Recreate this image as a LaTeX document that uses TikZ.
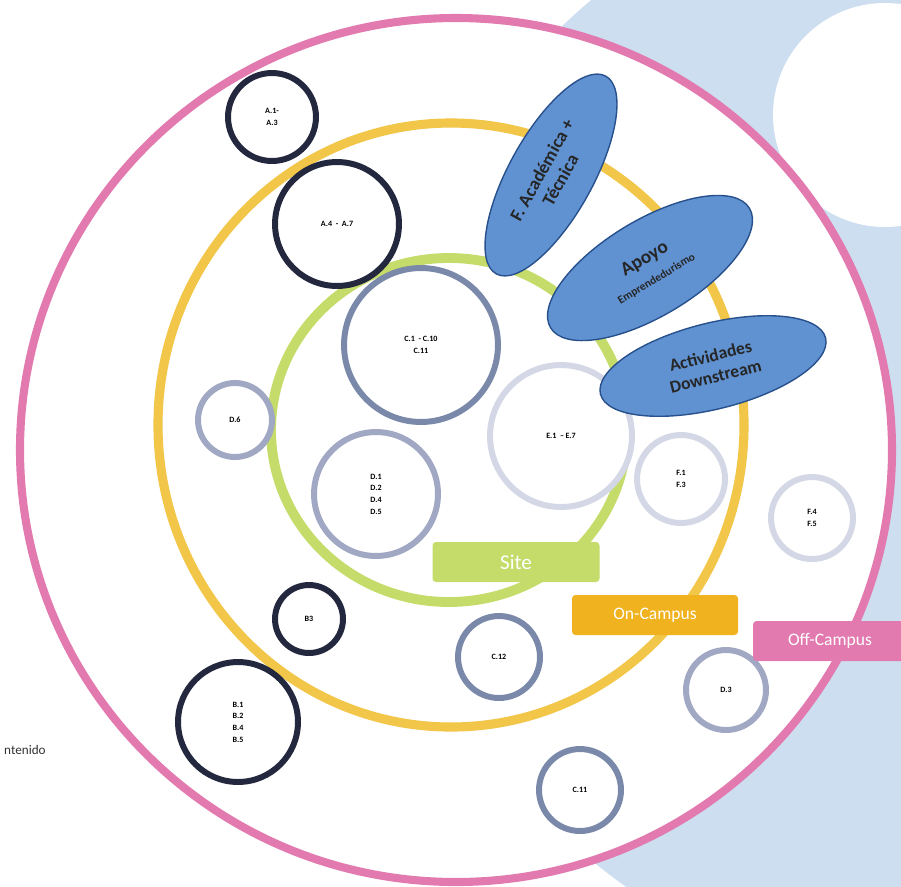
\documentclass[tikz,border=0pt]{standalone}
\usepackage{fontspec}
\setmainfont{Carlito}
\usetikzlibrary{shapes.geometric}
\definecolor{OffC}{RGB}{226,122,176}
\definecolor{OnC}{RGB}{242,198,72}
\definecolor{OnBox}{RGB}{240,178,30}
\definecolor{SiteC}{RGB}{197,220,106}
\definecolor{Navy}{RGB}{35,40,62}
\definecolor{Slate}{RGB}{122,136,170}
\definecolor{Mist}{RGB}{160,168,196}
\definecolor{Haze}{RGB}{212,216,230}
\definecolor{Act}{RGB}{96,146,210}
\definecolor{ActLine}{RGB}{40,80,140}
\definecolor{Back}{RGB}{205,222,240}
\newcommand{\Unit}[6]{% name x y radius colour label
\node[unit,draw=#5,minimum size={#4*0.04cm}] (#1) at (#2,#3) {#6};
}
\newcommand{\Tag}[6]{% name x y width colour text
\node[tag,fill=#5,minimum width={#4*0.02cm}] (#1) at (#2,#3) {#6};
}

\begin{document}
\begin{tikzpicture}[x=0.02cm,y=-0.02cm,
  unit/.style={circle,line width=3.4pt,fill=white,inner sep=0pt,align=center,
    font=\fontsize{4.6}{6.6}\selectfont\bfseries},
  blob/.style={ellipse,draw=ActLine,fill=Act,line width=0.8pt,inner sep=0pt,
    align=center,text=black!85,font=\bfseries},
  tag/.style={rectangle,rounded corners=2pt,minimum height={40*0.02cm},
    text=white,font=\fontsize{10}{12}\selectfont}]
\useasboundingbox (0,0) rectangle (901,886);
% background
\fill[Back] (950,430) circle (560);
\fill[white] (885,115) circle (112);
% rings
\draw[OffC,line width=4.6pt,fill=white] (456,450) ellipse [x radius=436,y radius=432];
\draw[OnC,line width=5.2pt] (451,425) ellipse [x radius=293,y radius=302];
\draw[SiteC,line width=5.6pt] (449,430) ellipse [x radius=178,y radius=172];
% units
\Unit{a1}{272}{117}{44}{Navy}{A.1-\\A.3}
\Unit{a4}{337}{224}{62}{Navy}{A.4\ \ -\ \ A.7}
\Unit{c1}{421}{345}{77}{Slate}{C.1\ \ -\ C.10\\C.11}
\Unit{e1}{561}{436}{71}{Haze}{E.1\ \ --\,E.7}
\Unit{d1}{376}{494}{62}{Mist}{D.1\\D.2\\D.4\\D.5}
\Unit{d6}{235}{420}{37}{Mist}{D.6}
\Unit{f1}{681}{479}{44}{Haze}{F.1\\F.3}
\Unit{f4}{812}{518}{41}{Haze}{F.4\\F.5}
\Unit{b3}{309}{619}{34}{Navy}{B3}
\Unit{b1}{238}{722}{60}{Navy}{B.1\\B.2\\B.4\\B.5}
\Unit{c12}{499}{657}{41}{Slate}{C.12}
\Unit{d3}{726}{690}{40}{Mist}{D.3}
\Unit{c11}{580}{790}{41}{Slate}{C.11}
% activities
\node[blob,rotate=61,minimum width={226*0.02cm},minimum height={84*0.02cm},
  font=\fontsize{10.5}{12}\selectfont\bfseries] (acad) at (551,175) {F. Académica +\\Técnica};
\node[blob,rotate=31,minimum width={232*0.02cm},minimum height={96*0.02cm}] (apoyo) at (650,268)
  {{\fontsize{11}{12}\selectfont Apoyo}\\{\fontsize{6.5}{7}\selectfont Emprendedurismo}};
\node[blob,rotate=14,minimum width={232*0.02cm},minimum height={86*0.02cm},
  font=\fontsize{10}{12}\selectfont\bfseries] (down) at (713,366) {Actividades\\Downstream};
% labels
\Tag{site}{516}{562}{167}{SiteC}{\fontsize{12}{14}\selectfont Site}
\Tag{oncampus}{655}{615}{166}{OnBox}{On-Campus}
\Tag{offcampus}{830}{641}{154}{OffC}{Off-Campus}
\node[anchor=west,font=\fontsize{7.5}{9}\selectfont,text=black!80] (cont) at (-2,750) {ntenido};
\end{tikzpicture}
\end{document}
